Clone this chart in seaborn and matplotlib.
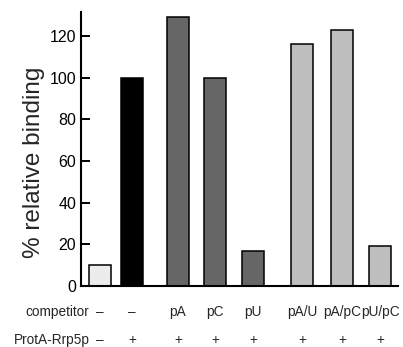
import matplotlib
matplotlib.use("Agg")
import matplotlib.pyplot as plt
import seaborn as sns
import pandas as pd

# ---- data ----
conditions = ["none", "ctrl", "pA", "pC", "pU", "pA/U", "pA/pC", "pU/pC"]
binding = [10, 100, 129, 100, 17, 116, 123, 19]
competitor_labels = ["\u2013", "\u2013", "pA", "pC", "pU", "pA/U", "pA/pC", "pU/pC"]
protein_labels = ["\u2013", "+", "+", "+", "+", "+", "+", "+"]
yticks = [0, 20, 40, 60, 80, 100, 120]

# ---- layout / style ----
positions = [0.0, 0.8, 1.95, 2.875, 3.825, 5.05, 6.05, 7.0]
bar_colors = ["#ececec", "#000000", "#666666", "#666666", "#666666",
              "#bebebe", "#bebebe", "#bebebe"]

sns.set_style("white")
plt.rcParams["font.family"] = ["Liberation Sans", "DejaVu Sans"]

df = pd.DataFrame({"pos": positions, "binding": binding, "cond": conditions})

fig = plt.figure(figsize=(4.03, 3.47), dpi=100)
ax = fig.add_axes([81 / 403, 1 - 286 / 347, 317 / 403, 274 / 347])

sns.barplot(data=df, x="pos", y="binding", hue="cond", hue_order=conditions,
            palette=bar_colors, native_scale=True, width=0.67, dodge=False,
            edgecolor="black", linewidth=1.1, legend=False, ax=ax)

ax.set_xlim(-0.475, 7.45)
ax.set_ylim(0, 131.5)
ax.set_yticks(yticks)
ax.set_xticks([])
ax.set_xlabel("")
ax.tick_params(axis="y", direction="in", length=6.5, width=1.4,
               pad=3.5, labelsize=11.5, left=True, colors="black")
for s in ["top", "right"]:
    ax.spines[s].set_visible(False)
for s in ["left", "bottom"]:
    ax.spines[s].set_linewidth(1.5)
    ax.spines[s].set_color("black")

ax.set_ylabel("% relative binding", fontsize=17.5)
ax.yaxis.set_label_coords(-0.112, 0.45)

tr = ax.get_xaxis_transform()
row1_y = -26 / 274
row2_y = -54 / 274
for p, c, pr in zip(positions, competitor_labels, protein_labels):
    ax.text(p, row1_y, c, transform=tr, ha="center", va="center", fontsize=9.8)
    ax.text(p, row2_y, pr, transform=tr, ha="center", va="center", fontsize=9.8)
ax.text(positions[0] - 0.28, row1_y, "competitor", transform=tr,
        ha="right", va="center", fontsize=9.8)
ax.text(positions[0] - 0.25, row2_y, "ProtA-Rrp5p", transform=tr,
        ha="right", va="center", fontsize=9.8)

fig.savefig("out.png", dpi=100)
